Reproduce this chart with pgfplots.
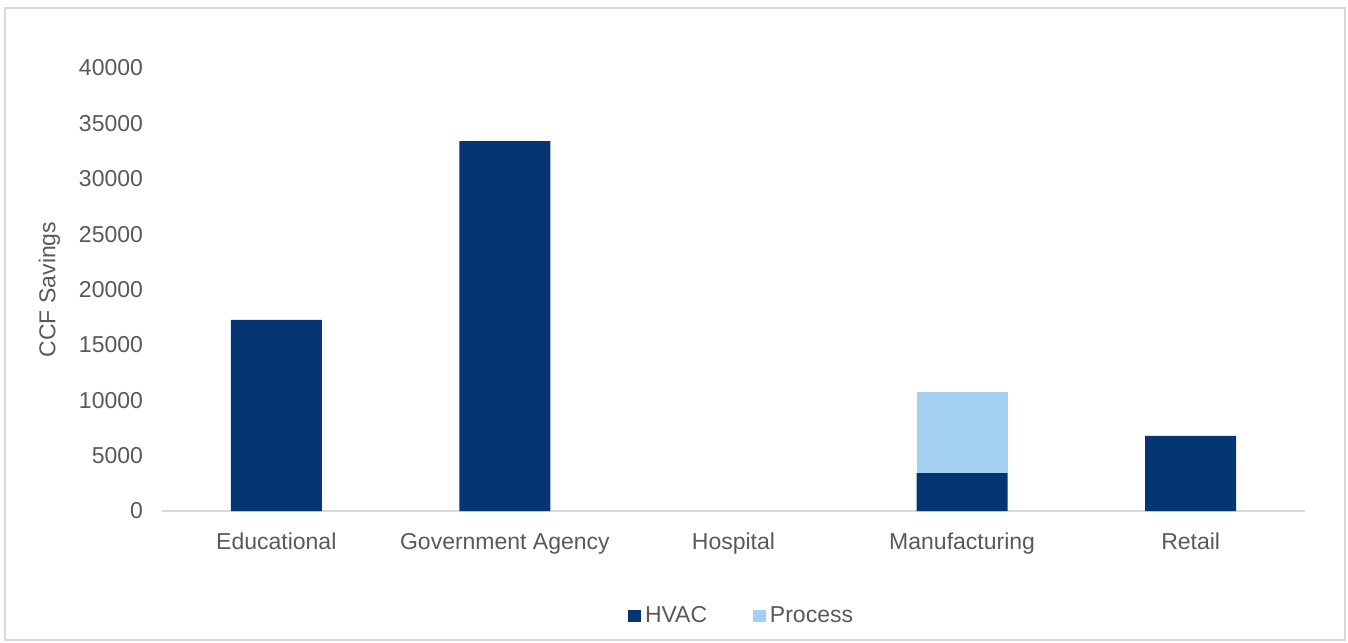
\documentclass[border=0pt]{standalone}
\usepackage{pgfplots}
\pgfplotsset{compat=1.18}
\usepackage{fontspec}
\setmainfont{Liberation Sans}
\definecolor{hvac}{HTML}{053572}
\definecolor{proc}{HTML}{A4D1F1}
\definecolor{txt}{HTML}{595959}
\definecolor{axl}{HTML}{D9D9D9}
\begin{document}
\begin{tikzpicture}
\begin{axis}[
  at={(0pt,0pt)}, anchor=south west,
  scale only axis, width=571.5pt, height=221.5pt,
  ybar stacked, bar width=45.5pt,
  xmin=-0.5, xmax=4.5, ymin=0, ymax=40000,
  xtick=data,
  xticklabels={Educational,Government Agency,Hospital,Manufacturing,Retail},
  ytick={0,5000,...,40000},
  scaled y ticks=false,
  /pgf/number format/assume math mode=true,
  yticklabel={\pgfmathprintnumber[fixed,1000 sep={}]{\tick}},
  axis x line*=bottom, axis y line*=left,
  x axis line style={axl, line width=0.8pt, -},
  y axis line style={draw=none},
  major tick length=0pt,
  tick style={draw=none},
  ticklabel style={font=\fontsize{11.5}{13}\selectfont, text=txt},
  xticklabel style={yshift=-7.5pt},
  yticklabel style={xshift=-6pt},
  ylabel={CCF Savings},
  ylabel style={font=\fontsize{11.5}{13}\selectfont, text=txt, yshift=2.5pt},
  legend style={at={(0.508,-0.237)}, anchor=center, draw=none, legend columns=2,
    font=\fontsize{11.5}{13}\selectfont, text=txt,
    /tikz/every even column/.append style={column sep=21pt}},
  legend image code/.code={\fill[#1] (0pt,-3.2pt) rectangle (6.4pt,3.2pt);},
]
\addplot[fill=hvac, draw=none] coordinates {(0,17250) (1,33400) (2,0) (3,3430) (4,6780)};
\addplot[fill=proc, draw=none] coordinates {(0,0) (1,0) (2,0) (3,7320) (4,0)};
\legend{HVAC,Process}
\end{axis}
\pgfresetboundingbox
\path[use as bounding box] (-81pt,-65.5pt) rectangle (593pt,255.5pt);
\draw[axl, line width=0.8pt] (-78.5pt,-64.5pt) rectangle (591.5pt,251.5pt);
\end{tikzpicture}
\end{document}
